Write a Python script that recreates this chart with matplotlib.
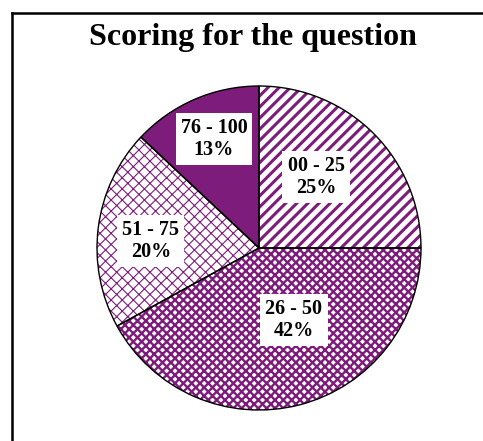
import matplotlib
matplotlib.use('Agg')
import matplotlib.pyplot as plt
from matplotlib.lines import Line2D

# Data
categories = ['00 - 25', '26 - 50', '51 - 75', '76 - 100']
shares = [25, 42, 20, 13]

purple = '#7D1C7B'
hatches = ['///', 'xxxx', 'xxx', None]
hatch_lw = [2.2, 1.7, 0.8, 1.0]
# label centres, in pie-radius units from the centre
label_pos = [(0.352, 0.438), (0.216, -0.444), (-0.667, 0.043), (-0.278, 0.673)]

W, H = 483, 441
fig = plt.figure(figsize=(W / 100, H / 100), dpi=100)
fig.patch.set_facecolor('white')

cx, cy, r = 259, 248, 162
ax = fig.add_axes([(cx - r) / W, (H - cy - r) / H, 2 * r / W, 2 * r / H])

wedges, _ = ax.pie(shares, startangle=90, counterclock=False, radius=1,
                   wedgeprops=dict(linewidth=0))
for w, h, lw in zip(wedges, hatches, hatch_lw):
    if h is None:
        w.set_facecolor(purple)
        w.set_edgecolor(purple)
    else:
        w.set_facecolor('white')
        w.set_edgecolor(purple)
        w.set_hatch(h)
        if hasattr(w, 'set_hatch_linewidth'):
            w.set_hatch_linewidth(lw)

# black outlines on top
ax.pie(shares, startangle=90, counterclock=False, radius=1,
       wedgeprops=dict(fill=False, edgecolor='black', linewidth=1.0))

for name, val, (x, y) in zip(categories, shares, label_pos):
    ax.text(x, y, f'{name}\n{val}%', ha='center', va='center',
            fontsize=14.5, fontweight='bold', family='Liberation Serif',
            linespacing=1.15, color='black',
            bbox=dict(boxstyle='square,pad=0.25', fc='white', ec='none'))

ax.set_xlim(-1, 1)
ax.set_ylim(-1, 1)

fig.text(253 / W, 1 - 37 / H, 'Scoring for the question', ha='center', va='center',
         fontsize=23, fontweight='bold', family='Liberation Serif')

# chart frame (only top and left visible in the crop)
fx, fy = 11.5 / W, 1 - 12.5 / H
fig.add_artist(Line2D([fx, 1], [fy, fy], transform=fig.transFigure, color='black', lw=1.8))
fig.add_artist(Line2D([fx, fx], [0, fy], transform=fig.transFigure, color='black', lw=1.8))

fig.savefig('out.png', dpi=100, facecolor='white')
